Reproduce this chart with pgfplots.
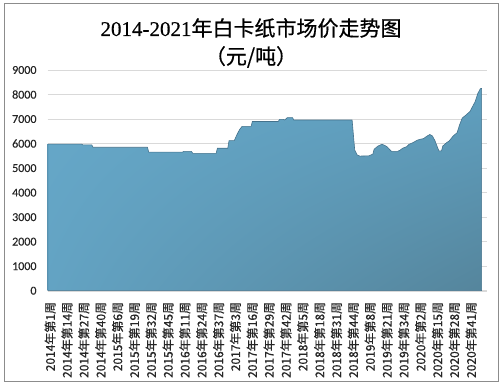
\documentclass[border=0pt]{standalone}
\usepackage{pgfplots}
\pgfplotsset{compat=1.18}
\usetikzlibrary{shadings}
\usepackage{fontspec}
\newfontfamily\cjk{Noto Sans CJK SC}
\newfontfamily\cjkl[FakeBold=0.6]{Noto Sans CJK SC}
\newfontfamily\cjkt[FakeBold=0.5]{Noto Sans CJK SC}
\newfontfamily\tnr[FakeBold=0.5]{Liberation Serif}
\newfontfamily\calibri[FakeBold=0.3]{Carlito}
\definecolor{gridc}{HTML}{D9D9D9}
\definecolor{edgec}{HTML}{44728C}
\definecolor{ul}{HTML}{66A8C9}
\definecolor{ll}{HTML}{63A3C3}
\definecolor{ur}{HTML}{60A0C0}
\definecolor{lr}{HTML}{55859C}
\definecolor{framec}{HTML}{8C8C8C}
\definecolor{txt}{HTML}{262626}
\begin{document}
\begin{tikzpicture}
\path[use as bounding box] (0,0) rectangle (502pt,389pt);
\draw[framec, line width=0.9pt] (4pt,7.3pt) rectangle (498pt,385.7pt);
\node[inner sep=0pt] at (251pt,361pt) {\fontsize{21}{21}\selectfont\tnr 2014-2021\cjkt 年白卡纸市场价走势图};
\node[inner sep=0pt] at (251pt,332pt) {\fontsize{21}{21}\selectfont\cjkt （元/吨）};
\begin{axis}[
  at={(47.7pt,98.3pt)}, anchor=south west,
  scale only axis, width=439pt, height=220.7pt,
  xmin=0, xmax=338.9, ymin=0, ymax=9000,
  axis lines*=left,
  x axis line style={draw=gridc},
  y axis line style={draw=none},
  major tick length=0pt,
  ymajorgrids, grid style={gridc, line width=0.6pt},
  ytick={0,1000,...,9000},
  scaled y ticks=false,
  /pgf/number format/1000 sep={},
  /pgf/number format/assume math mode=true,
  yticklabel style={font=\calibri\fontsize{12}{12}\selectfont, text=txt, inner sep=0pt, xshift=-11pt},
  xtick={0,13,...,325},
  xticklabels={2014年第1周,2014年第14周,2014年第27周,2014年第40周,2015年第6周,2015年第19周,2015年第32周,2015年第45周,2016年第11周,2016年第24周,2016年第37周,2017年第3周,2017年第16周,2017年第29周,2017年第42周,2018年第5周,2018年第18周,2018年第31周,2018年第44周,2019年第8周,2019年第21周,2019年第34周,2020年第2周,2020年第15周,2020年第28周,2020年第41周},
  xticklabel style={font=\cjkl\fontsize{12}{12}\selectfont, text=txt, inner sep=0pt, xshift=2.5pt, yshift=-11pt, rotate=90, anchor=east},
]
\addplot[draw=edgec, line width=0.6pt, upper left=ul, lower left=ll, upper right=ur, lower right=lr] table {
x y
0 5980
26 5980
27 5950
34 5950
35 5850
77 5850
78 5650
104 5650
105 5680
111 5680
112 5600
130 5600
131 5810
139 5810
140 6120
144 6120
146 6350
148 6560
150 6700
157 6700
158 6900
178 6900
179 6990
182 6990
183 6960
185 7060
189 7060
190 6960
235 6960
237 5740
239 5530
241 5490
248 5500
251 5570
252 5770
255 5900
258 5970
260 5930
262 5870
265 5700
266 5680
270 5680
272 5730
274 5810
277 5870
279 5970
282 6040
285 6130
287 6170
290 6200
293 6310
295 6370
297 6310
299 6110
300 5970
302 5700
304 5700
305 5900
308 6040
310 6110
313 6310
316 6440
318 6770
320 7040
323 7170
326 7310
328 7510
330 7710
332 8040
334 8240
335 8250
} \closedcycle;
\end{axis}
\end{tikzpicture}
\end{document}
